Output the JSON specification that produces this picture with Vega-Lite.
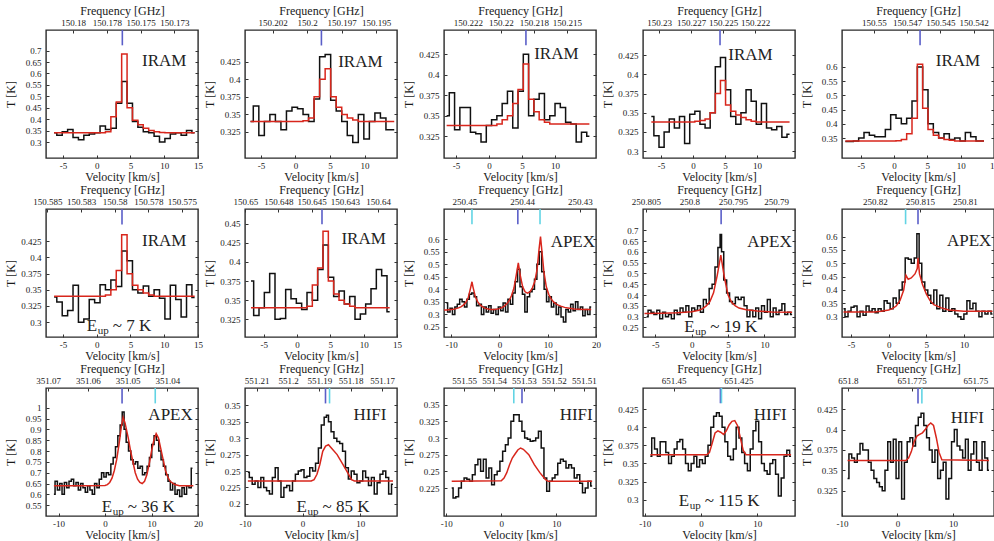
{
"$schema": "https://vega.github.io/schema/vega-lite/v6.json",
"padding": {"left": 3, "top": 3, "right": 0, "bottom": 0},
"background": "white",
"config": {
 "font": "Liberation Serif",
 "view": {"stroke": "#2a2a2a", "strokeWidth": 1.4},
 "axis": {"labelFont": "Liberation Serif", "titleFont": "Liberation Serif", "labelFontSize": 9, "titleFontSize": 12, "titleFontWeight": "normal", "labelColor": "#1a1a1a", "titleColor": "#1a1a1a", "tickColor": "#333", "tickWidth": 1, "grid": false, "domain": false, "tickSize": -3, "labelPadding": 6, "labelOverlap": false, "labelFlush": false, "tickCount": 20},
 "axisLeft": {"minExtent": 27, "maxExtent": 27, "titlePadding": 2, "labelPadding": 8},
 "axisRight": {"minExtent": 0, "maxExtent": 0},
 "axisTop": {"minExtent": 12, "maxExtent": 12, "titlePadding": 1},
 "axisBottom": {"minExtent": 13, "maxExtent": 13, "titlePadding": 0}
},
"datasets": {
 "o1": [{"v":-6.3,"T":0.34},{"v":-5.5,"T":0.33},{"v":-4.7,"T":0.345},{"v":-3.9,"T":0.355},{"v":-3.1,"T":0.32},{"v":-2.3,"T":0.31},{"v":-1.5,"T":0.33},{"v":-0.7,"T":0.335},{"v":0.1,"T":0.34},{"v":0.9,"T":0.37},{"v":1.7,"T":0.355},{"v":2.5,"T":0.36},{"v":3.3,"T":0.47},{"v":4.1,"T":0.565},{"v":4.9,"T":0.47},{"v":5.7,"T":0.39},{"v":6.5,"T":0.365},{"v":7.3,"T":0.345},{"v":8.1,"T":0.34},{"v":8.9,"T":0.325},{"v":9.7,"T":0.3},{"v":10.5,"T":0.315},{"v":11.3,"T":0.335},{"v":12.1,"T":0.34},{"v":12.9,"T":0.33},{"v":13.7,"T":0.35},{"v":14.5,"T":0.34}],
 "m1": [{"v":-6.3,"T":0.34},{"v":-5.5,"T":0.34},{"v":-4.7,"T":0.34},{"v":-3.9,"T":0.34},{"v":-3.1,"T":0.34},{"v":-2.3,"T":0.34},{"v":-1.5,"T":0.34},{"v":-0.7,"T":0.34},{"v":0.1,"T":0.34},{"v":0.9,"T":0.341},{"v":1.7,"T":0.345},{"v":2.5,"T":0.41},{"v":3.3,"T":0.475},{"v":4.1,"T":0.685},{"v":4.9,"T":0.45},{"v":5.7,"T":0.395},{"v":6.5,"T":0.375},{"v":7.3,"T":0.36},{"v":8.1,"T":0.35},{"v":8.9,"T":0.345},{"v":9.7,"T":0.342},{"v":10.5,"T":0.34},{"v":11.3,"T":0.34},{"v":12.1,"T":0.34},{"v":12.9,"T":0.34},{"v":13.7,"T":0.34},{"v":14.5,"T":0.34}],
 "k1": [{"f":150.17636,"kind":"main"}],
 "o2": [{"v":-6.5,"T":0.34},{"v":-5.7,"T":0.362},{"v":-4.9,"T":0.32},{"v":-4.1,"T":0.34},{"v":-3.3,"T":0.35},{"v":-2.5,"T":0.34},{"v":-1.7,"T":0.328},{"v":-0.9,"T":0.355},{"v":-0.1,"T":0.36},{"v":0.7,"T":0.358},{"v":1.5,"T":0.35},{"v":2.3,"T":0.34},{"v":3.1,"T":0.372},{"v":3.9,"T":0.432},{"v":4.7,"T":0.435},{"v":5.5,"T":0.37},{"v":6.3,"T":0.355},{"v":7.1,"T":0.34},{"v":7.9,"T":0.32},{"v":8.7,"T":0.31},{"v":9.5,"T":0.35},{"v":10.3,"T":0.315},{"v":11.1,"T":0.34},{"v":11.9,"T":0.352},{"v":12.7,"T":0.345},{"v":13.5,"T":0.328},{"v":14.3,"T":0.328}],
 "m2": [{"v":-6.5,"T":0.34},{"v":-5.7,"T":0.34},{"v":-4.9,"T":0.34},{"v":-4.1,"T":0.34},{"v":-3.3,"T":0.34},{"v":-2.5,"T":0.34},{"v":-1.7,"T":0.34},{"v":-0.9,"T":0.34},{"v":-0.1,"T":0.34},{"v":0.7,"T":0.34},{"v":1.5,"T":0.341},{"v":2.3,"T":0.345},{"v":3.1,"T":0.375},{"v":3.9,"T":0.4},{"v":4.7,"T":0.415},{"v":5.5,"T":0.375},{"v":6.3,"T":0.36},{"v":7.1,"T":0.35},{"v":7.9,"T":0.345},{"v":8.7,"T":0.342},{"v":9.5,"T":0.34},{"v":10.3,"T":0.34},{"v":11.1,"T":0.34},{"v":11.9,"T":0.34},{"v":12.7,"T":0.34},{"v":13.5,"T":0.34},{"v":14.3,"T":0.34}],
 "k2": [{"f":150.19896,"kind":"main"}],
 "o3": [{"v":-6.4,"T":0.35},{"v":-5.6,"T":0.378},{"v":-4.8,"T":0.333},{"v":-4.0,"T":0.36},{"v":-3.2,"T":0.36},{"v":-2.4,"T":0.33},{"v":-1.6,"T":0.328},{"v":-0.8,"T":0.318},{"v":0.0,"T":0.338},{"v":0.8,"T":0.345},{"v":1.6,"T":0.35},{"v":2.4,"T":0.365},{"v":3.2,"T":0.38},{"v":4.0,"T":0.335},{"v":4.8,"T":0.38},{"v":5.6,"T":0.425},{"v":6.4,"T":0.35},{"v":7.2,"T":0.37},{"v":8.0,"T":0.377},{"v":8.8,"T":0.345},{"v":9.6,"T":0.35},{"v":10.4,"T":0.365},{"v":11.2,"T":0.36},{"v":12.0,"T":0.342},{"v":12.8,"T":0.34},{"v":13.6,"T":0.318},{"v":14.4,"T":0.33},{"v":15.2,"T":0.325}],
 "m3": [{"v":-6.4,"T":0.338},{"v":-5.6,"T":0.338},{"v":-4.8,"T":0.338},{"v":-4.0,"T":0.338},{"v":-3.2,"T":0.338},{"v":-2.4,"T":0.338},{"v":-1.6,"T":0.338},{"v":-0.8,"T":0.338},{"v":0.0,"T":0.338},{"v":0.8,"T":0.338},{"v":1.6,"T":0.34},{"v":2.4,"T":0.345},{"v":3.2,"T":0.35},{"v":4.0,"T":0.365},{"v":4.8,"T":0.382},{"v":5.6,"T":0.413},{"v":6.4,"T":0.37},{"v":7.2,"T":0.355},{"v":8.0,"T":0.345},{"v":8.8,"T":0.342},{"v":9.6,"T":0.34},{"v":10.4,"T":0.34},{"v":11.2,"T":0.34},{"v":12.0,"T":0.34},{"v":12.8,"T":0.34},{"v":13.6,"T":0.34},{"v":14.4,"T":0.34},{"v":15.2,"T":0.34}],
 "k3": [{"f":150.2181,"kind":"main"}],
 "o4": [{"v":-6.5,"T":0.345},{"v":-5.7,"T":0.32},{"v":-4.9,"T":0.305},{"v":-4.1,"T":0.325},{"v":-3.3,"T":0.342},{"v":-2.5,"T":0.33},{"v":-1.7,"T":0.345},{"v":-0.9,"T":0.31},{"v":-0.1,"T":0.348},{"v":0.7,"T":0.352},{"v":1.5,"T":0.335},{"v":2.3,"T":0.33},{"v":3.1,"T":0.35},{"v":3.9,"T":0.41},{"v":4.7,"T":0.422},{"v":5.5,"T":0.38},{"v":6.3,"T":0.345},{"v":7.1,"T":0.335},{"v":7.9,"T":0.35},{"v":8.7,"T":0.38},{"v":9.5,"T":0.365},{"v":10.3,"T":0.335},{"v":11.1,"T":0.362},{"v":11.9,"T":0.33},{"v":12.7,"T":0.328},{"v":13.5,"T":0.332},{"v":14.3,"T":0.318},{"v":15.1,"T":0.322}],
 "m4": [{"v":-6.5,"T":0.338},{"v":-5.7,"T":0.338},{"v":-4.9,"T":0.338},{"v":-4.1,"T":0.338},{"v":-3.3,"T":0.338},{"v":-2.5,"T":0.338},{"v":-1.7,"T":0.338},{"v":-0.9,"T":0.338},{"v":-0.1,"T":0.338},{"v":0.7,"T":0.339},{"v":1.5,"T":0.34},{"v":2.3,"T":0.342},{"v":3.1,"T":0.35},{"v":3.9,"T":0.375},{"v":4.7,"T":0.392},{"v":5.5,"T":0.36},{"v":6.3,"T":0.352},{"v":7.1,"T":0.347},{"v":7.9,"T":0.344},{"v":8.7,"T":0.341},{"v":9.5,"T":0.339},{"v":10.3,"T":0.338},{"v":11.1,"T":0.338},{"v":11.9,"T":0.338},{"v":12.7,"T":0.338},{"v":13.5,"T":0.338},{"v":14.3,"T":0.338},{"v":15.1,"T":0.338}],
 "k4": [{"f":150.22524,"kind":"main"}],
 "o5": [{"v":-7.3,"T":0.338},{"v":-6.5,"T":0.338},{"v":-5.7,"T":0.34},{"v":-4.9,"T":0.35},{"v":-4.1,"T":0.37},{"v":-3.3,"T":0.36},{"v":-2.5,"T":0.355},{"v":-1.7,"T":0.355},{"v":-0.9,"T":0.38},{"v":-0.1,"T":0.432},{"v":0.7,"T":0.42},{"v":1.5,"T":0.4},{"v":2.3,"T":0.42},{"v":3.1,"T":0.48},{"v":3.9,"T":0.6},{"v":4.7,"T":0.52},{"v":5.5,"T":0.4},{"v":6.3,"T":0.37},{"v":7.1,"T":0.35},{"v":7.9,"T":0.365},{"v":8.7,"T":0.345},{"v":9.5,"T":0.35},{"v":10.3,"T":0.34},{"v":11.1,"T":0.37},{"v":11.9,"T":0.355},{"v":12.7,"T":0.34},{"v":13.5,"T":0.34}],
 "m5": [{"v":-7.3,"T":0.34},{"v":-6.5,"T":0.34},{"v":-5.7,"T":0.34},{"v":-4.9,"T":0.34},{"v":-4.1,"T":0.34},{"v":-3.3,"T":0.34},{"v":-2.5,"T":0.34},{"v":-1.7,"T":0.34},{"v":-0.9,"T":0.34},{"v":-0.1,"T":0.34},{"v":0.7,"T":0.341},{"v":1.5,"T":0.345},{"v":2.3,"T":0.365},{"v":3.1,"T":0.42},{"v":3.9,"T":0.61},{"v":4.7,"T":0.455},{"v":5.5,"T":0.38},{"v":6.3,"T":0.36},{"v":7.1,"T":0.35},{"v":7.9,"T":0.345},{"v":8.7,"T":0.342},{"v":9.5,"T":0.34},{"v":10.3,"T":0.34},{"v":11.1,"T":0.34},{"v":11.9,"T":0.34},{"v":12.7,"T":0.34},{"v":13.5,"T":0.34}],
 "k5": [{"f":150.54653,"kind":"main"}],
 "o6": [{"v":-6.3,"T":0.339},{"v":-5.5,"T":0.331},{"v":-4.7,"T":0.31},{"v":-3.9,"T":0.318},{"v":-3.1,"T":0.357},{"v":-2.3,"T":0.3},{"v":-1.5,"T":0.305},{"v":-0.7,"T":0.335},{"v":0.1,"T":0.33},{"v":0.9,"T":0.358},{"v":1.7,"T":0.35},{"v":2.5,"T":0.365},{"v":3.3,"T":0.355},{"v":4.1,"T":0.41},{"v":4.9,"T":0.395},{"v":5.7,"T":0.35},{"v":6.5,"T":0.345},{"v":7.3,"T":0.356},{"v":8.1,"T":0.34},{"v":8.9,"T":0.35},{"v":9.7,"T":0.337},{"v":10.5,"T":0.305},{"v":11.3,"T":0.357},{"v":12.1,"T":0.335},{"v":12.9,"T":0.308},{"v":13.7,"T":0.358},{"v":14.5,"T":0.338}],
 "m6": [{"v":-6.3,"T":0.34},{"v":-5.5,"T":0.34},{"v":-4.7,"T":0.34},{"v":-3.9,"T":0.34},{"v":-3.1,"T":0.34},{"v":-2.3,"T":0.34},{"v":-1.5,"T":0.34},{"v":-0.7,"T":0.34},{"v":0.1,"T":0.34},{"v":0.9,"T":0.34},{"v":1.7,"T":0.342},{"v":2.5,"T":0.35},{"v":3.3,"T":0.38},{"v":4.1,"T":0.435},{"v":4.9,"T":0.375},{"v":5.7,"T":0.357},{"v":6.5,"T":0.35},{"v":7.3,"T":0.345},{"v":8.1,"T":0.342},{"v":8.9,"T":0.34},{"v":9.7,"T":0.34},{"v":10.5,"T":0.34},{"v":11.3,"T":0.34},{"v":12.1,"T":0.34},{"v":12.9,"T":0.34},{"v":13.7,"T":0.34},{"v":14.5,"T":0.34}],
 "k6": [{"f":150.57946,"kind":"main"}],
 "o7": [{"v":-6.9,"T":0.375},{"v":-6.1,"T":0.33},{"v":-5.3,"T":0.34},{"v":-4.5,"T":0.36},{"v":-3.7,"T":0.385},{"v":-2.9,"T":0.325},{"v":-2.1,"T":0.326},{"v":-1.3,"T":0.364},{"v":-0.5,"T":0.352},{"v":0.3,"T":0.346},{"v":1.1,"T":0.338},{"v":1.9,"T":0.36},{"v":2.7,"T":0.35},{"v":3.5,"T":0.39},{"v":4.3,"T":0.422},{"v":5.1,"T":0.38},{"v":5.9,"T":0.355},{"v":6.7,"T":0.362},{"v":7.5,"T":0.345},{"v":8.3,"T":0.355},{"v":9.1,"T":0.325},{"v":9.9,"T":0.332},{"v":10.7,"T":0.345},{"v":11.5,"T":0.365},{"v":12.3,"T":0.39},{"v":13.1,"T":0.382},{"v":13.9,"T":0.335}],
 "m7": [{"v":-6.9,"T":0.34},{"v":-6.1,"T":0.34},{"v":-5.3,"T":0.34},{"v":-4.5,"T":0.34},{"v":-3.7,"T":0.34},{"v":-2.9,"T":0.34},{"v":-2.1,"T":0.34},{"v":-1.3,"T":0.34},{"v":-0.5,"T":0.34},{"v":0.3,"T":0.34},{"v":1.1,"T":0.34},{"v":1.9,"T":0.342},{"v":2.7,"T":0.37},{"v":3.5,"T":0.392},{"v":4.3,"T":0.44},{"v":5.1,"T":0.375},{"v":5.9,"T":0.358},{"v":6.7,"T":0.35},{"v":7.5,"T":0.345},{"v":8.3,"T":0.342},{"v":9.1,"T":0.34},{"v":9.9,"T":0.34},{"v":10.7,"T":0.34},{"v":11.5,"T":0.34},{"v":12.3,"T":0.34},{"v":13.1,"T":0.34},{"v":13.9,"T":0.34}],
 "k7": [{"f":150.64422,"kind":"main"}],
 "o8": [{"v":-11,"T":0.345},{"v":-10.5,"T":0.31},{"v":-10,"T":0.325},{"v":-9.5,"T":0.3},{"v":-9,"T":0.33},{"v":-8.5,"T":0.34},{"v":-8,"T":0.36},{"v":-7.5,"T":0.35},{"v":-7,"T":0.33},{"v":-6.5,"T":0.36},{"v":-6,"T":0.38},{"v":-5.5,"T":0.385},{"v":-5,"T":0.37},{"v":-4.5,"T":0.335},{"v":-4,"T":0.34},{"v":-3.5,"T":0.3},{"v":-3,"T":0.33},{"v":-2.5,"T":0.31},{"v":-2,"T":0.335},{"v":-1.5,"T":0.305},{"v":-1,"T":0.32},{"v":-0.5,"T":0.3},{"v":0,"T":0.33},{"v":0.5,"T":0.315},{"v":1,"T":0.345},{"v":1.5,"T":0.31},{"v":2,"T":0.36},{"v":2.5,"T":0.34},{"v":3,"T":0.385},{"v":3.5,"T":0.43},{"v":4,"T":0.48},{"v":4.5,"T":0.41},{"v":5,"T":0.38},{"v":5.5,"T":0.31},{"v":6,"T":0.37},{"v":6.5,"T":0.39},{"v":7,"T":0.4},{"v":7.5,"T":0.44},{"v":8,"T":0.5},{"v":8.5,"T":0.55},{"v":9,"T":0.47},{"v":9.5,"T":0.4},{"v":10,"T":0.35},{"v":10.5,"T":0.37},{"v":11,"T":0.33},{"v":11.5,"T":0.345},{"v":12,"T":0.3},{"v":12.5,"T":0.33},{"v":13,"T":0.29},{"v":13.5,"T":0.27},{"v":14,"T":0.32},{"v":14.5,"T":0.31},{"v":15,"T":0.34},{"v":15.5,"T":0.315},{"v":16,"T":0.35},{"v":16.5,"T":0.32},{"v":17,"T":0.33},{"v":17.5,"T":0.295},{"v":18,"T":0.32},{"v":18.5,"T":0.3},{"v":19,"T":0.33}],
 "m8": [{"v":-11.5,"T":0.318},{"v":-11,"T":0.318},{"v":-10.5,"T":0.319},{"v":-10,"T":0.32},{"v":-9.5,"T":0.321},{"v":-9,"T":0.323},{"v":-8.5,"T":0.326},{"v":-8,"T":0.33},{"v":-7.5,"T":0.337},{"v":-7,"T":0.347},{"v":-6.5,"T":0.365},{"v":-6,"T":0.405},{"v":-5.7,"T":0.43},{"v":-5.5,"T":0.41},{"v":-5,"T":0.37},{"v":-4.5,"T":0.35},{"v":-4,"T":0.338},{"v":-3.5,"T":0.33},{"v":-3,"T":0.325},{"v":-2,"T":0.32},{"v":-1,"T":0.32},{"v":0,"T":0.323},{"v":0.5,"T":0.327},{"v":1,"T":0.333},{"v":1.5,"T":0.342},{"v":2,"T":0.355},{"v":2.5,"T":0.375},{"v":3,"T":0.405},{"v":3.5,"T":0.46},{"v":3.9,"T":0.505},{"v":4.3,"T":0.455},{"v":4.8,"T":0.41},{"v":5.3,"T":0.39},{"v":5.8,"T":0.385},{"v":6.3,"T":0.39},{"v":6.8,"T":0.405},{"v":7.3,"T":0.43},{"v":7.8,"T":0.48},{"v":8.2,"T":0.56},{"v":8.5,"T":0.61},{"v":8.8,"T":0.55},{"v":9.2,"T":0.47},{"v":9.7,"T":0.41},{"v":10.2,"T":0.38},{"v":10.7,"T":0.362},{"v":11.2,"T":0.35},{"v":11.7,"T":0.342},{"v":12.2,"T":0.337},{"v":12.7,"T":0.333},{"v":13.5,"T":0.328},{"v":14.5,"T":0.325},{"v":15.5,"T":0.322},{"v":16.5,"T":0.321},{"v":17.5,"T":0.32},{"v":19,"T":0.32}],
 "k8": [{"f":250.44869,"kind":"blend"},{"f":250.44075,"kind":"main"},{"f":250.43691,"kind":"blend"}],
 "o9": [{"v":-6.2,"T":0.3},{"v":-5.8,"T":0.33},{"v":-5.4,"T":0.32},{"v":-5,"T":0.31},{"v":-4.6,"T":0.33},{"v":-4.2,"T":0.29},{"v":-3.8,"T":0.32},{"v":-3.4,"T":0.3},{"v":-3,"T":0.31},{"v":-2.6,"T":0.29},{"v":-2.2,"T":0.33},{"v":-1.8,"T":0.31},{"v":-1.4,"T":0.34},{"v":-1,"T":0.32},{"v":-0.6,"T":0.35},{"v":-0.2,"T":0.3},{"v":0.2,"T":0.34},{"v":0.6,"T":0.33},{"v":1,"T":0.35},{"v":1.4,"T":0.32},{"v":1.8,"T":0.38},{"v":2.2,"T":0.36},{"v":2.6,"T":0.43},{"v":3,"T":0.45},{"v":3.4,"T":0.53},{"v":3.8,"T":0.62},{"v":4,"T":0.68},{"v":4.2,"T":0.6},{"v":4.6,"T":0.47},{"v":5,"T":0.41},{"v":5.4,"T":0.37},{"v":5.8,"T":0.36},{"v":6.2,"T":0.39},{"v":6.6,"T":0.38},{"v":7,"T":0.39},{"v":7.4,"T":0.35},{"v":7.8,"T":0.3},{"v":8.2,"T":0.33},{"v":8.6,"T":0.3},{"v":9,"T":0.34},{"v":9.4,"T":0.29},{"v":9.8,"T":0.35},{"v":10.2,"T":0.32},{"v":10.6,"T":0.38},{"v":11,"T":0.3},{"v":11.4,"T":0.34},{"v":11.8,"T":0.31},{"v":12.2,"T":0.33},{"v":12.6,"T":0.36},{"v":13,"T":0.31},{"v":13.4,"T":0.32},{"v":13.8,"T":0.31}],
 "m9": [{"v":-6.5,"T":0.315},{"v":-4,"T":0.316},{"v":-2,"T":0.318},{"v":-1,"T":0.32},{"v":0,"T":0.323},{"v":1,"T":0.33},{"v":1.5,"T":0.337},{"v":2,"T":0.35},{"v":2.5,"T":0.37},{"v":3,"T":0.41},{"v":3.5,"T":0.49},{"v":4,"T":0.585},{"v":4.5,"T":0.48},{"v":5,"T":0.4},{"v":5.5,"T":0.365},{"v":6,"T":0.35},{"v":6.5,"T":0.34},{"v":7.5,"T":0.332},{"v":9,"T":0.326},{"v":11,"T":0.322},{"v":13.8,"T":0.32}],
 "k9": [{"f":250.79634,"kind":"main"}],
 "o10": [{"v":-6,"T":0.33},{"v":-5.6,"T":0.3},{"v":-5.2,"T":0.32},{"v":-4.8,"T":0.335},{"v":-4.4,"T":0.34},{"v":-4,"T":0.3},{"v":-3.6,"T":0.32},{"v":-3.2,"T":0.305},{"v":-2.8,"T":0.34},{"v":-2.4,"T":0.32},{"v":-2,"T":0.33},{"v":-1.6,"T":0.315},{"v":-1.2,"T":0.33},{"v":-0.8,"T":0.32},{"v":-0.4,"T":0.36},{"v":0,"T":0.35},{"v":0.4,"T":0.33},{"v":0.8,"T":0.37},{"v":1.2,"T":0.35},{"v":1.6,"T":0.4},{"v":2,"T":0.43},{"v":2.4,"T":0.52},{"v":2.8,"T":0.515},{"v":3.2,"T":0.5},{"v":3.6,"T":0.52},{"v":3.9,"T":0.61},{"v":4.2,"T":0.5},{"v":4.6,"T":0.43},{"v":5,"T":0.4},{"v":5.4,"T":0.38},{"v":5.8,"T":0.35},{"v":6.2,"T":0.4},{"v":6.6,"T":0.33},{"v":7,"T":0.38},{"v":7.4,"T":0.32},{"v":7.8,"T":0.37},{"v":8.2,"T":0.32},{"v":8.6,"T":0.33},{"v":9,"T":0.31},{"v":9.4,"T":0.3},{"v":9.8,"T":0.29},{"v":10.2,"T":0.31},{"v":10.6,"T":0.36},{"v":11,"T":0.33},{"v":11.4,"T":0.35},{"v":11.8,"T":0.32},{"v":12.2,"T":0.3},{"v":12.6,"T":0.32},{"v":13,"T":0.31},{"v":13.4,"T":0.32},{"v":13.8,"T":0.31}],
 "m10": [{"v":-6,"T":0.318},{"v":-2,"T":0.318},{"v":-1,"T":0.32},{"v":0,"T":0.325},{"v":0.5,"T":0.33},{"v":1,"T":0.34},{"v":1.5,"T":0.36},{"v":2,"T":0.4},{"v":2.3,"T":0.455},{"v":2.6,"T":0.44},{"v":3,"T":0.445},{"v":3.5,"T":0.46},{"v":3.8,"T":0.48},{"v":3.9,"T":0.52},{"v":4.1,"T":0.46},{"v":4.5,"T":0.42},{"v":5,"T":0.385},{"v":5.5,"T":0.36},{"v":6,"T":0.345},{"v":7,"T":0.333},{"v":8,"T":0.325},{"v":10,"T":0.32},{"v":13.8,"T":0.32}],
 "k10": [{"f":250.81658,"kind":"blend"},{"f":250.8152,"kind":"main"}],
 "o11": [{"v":-11,"T":0.6},{"v":-10.5,"T":0.66},{"v":-10,"T":0.62},{"v":-9.5,"T":0.65},{"v":-9,"T":0.6},{"v":-8.5,"T":0.655},{"v":-8,"T":0.63},{"v":-7.5,"T":0.66},{"v":-7,"T":0.67},{"v":-6.5,"T":0.64},{"v":-6,"T":0.655},{"v":-5.5,"T":0.62},{"v":-5,"T":0.65},{"v":-4.5,"T":0.63},{"v":-4,"T":0.61},{"v":-3.5,"T":0.64},{"v":-3,"T":0.62},{"v":-2.5,"T":0.6},{"v":-2,"T":0.65},{"v":-1.5,"T":0.63},{"v":-1,"T":0.67},{"v":-0.5,"T":0.7},{"v":0,"T":0.68},{"v":0.5,"T":0.7},{"v":1,"T":0.69},{"v":1.5,"T":0.74},{"v":2,"T":0.77},{"v":2.5,"T":0.82},{"v":3,"T":0.87},{"v":3.5,"T":0.92},{"v":3.9,"T":0.98},{"v":4.3,"T":0.9},{"v":4.8,"T":0.84},{"v":5.3,"T":0.8},{"v":5.8,"T":0.76},{"v":6.3,"T":0.74},{"v":6.8,"T":0.75},{"v":7.3,"T":0.72},{"v":7.8,"T":0.73},{"v":8.3,"T":0.69},{"v":8.8,"T":0.7},{"v":9.3,"T":0.73},{"v":9.8,"T":0.77},{"v":10.3,"T":0.83},{"v":10.8,"T":0.87},{"v":11.3,"T":0.85},{"v":11.8,"T":0.8},{"v":12.3,"T":0.76},{"v":12.8,"T":0.73},{"v":13.3,"T":0.69},{"v":13.8,"T":0.66},{"v":14.3,"T":0.62},{"v":14.8,"T":0.65},{"v":15.3,"T":0.6},{"v":15.8,"T":0.62},{"v":16.3,"T":0.59},{"v":16.8,"T":0.63},{"v":17.3,"T":0.6},{"v":17.8,"T":0.64},{"v":18.3,"T":0.63},{"v":18.8,"T":0.72}],
 "m11": [{"v":-11,"T":0.64},{"v":-5,"T":0.64},{"v":0,"T":0.641},{"v":0.5,"T":0.645},{"v":1,"T":0.655},{"v":1.5,"T":0.675},{"v":2,"T":0.71},{"v":2.5,"T":0.76},{"v":3,"T":0.83},{"v":3.5,"T":0.91},{"v":3.9,"T":0.955},{"v":4.3,"T":0.93},{"v":5,"T":0.86},{"v":5.5,"T":0.8},{"v":6,"T":0.75},{"v":6.5,"T":0.7},{"v":7,"T":0.67},{"v":7.5,"T":0.655},{"v":8,"T":0.65},{"v":8.5,"T":0.66},{"v":9,"T":0.69},{"v":9.5,"T":0.74},{"v":10,"T":0.8},{"v":10.5,"T":0.85},{"v":11,"T":0.88},{"v":11.5,"T":0.86},{"v":12,"T":0.81},{"v":12.5,"T":0.76},{"v":13,"T":0.71},{"v":13.5,"T":0.68},{"v":14,"T":0.66},{"v":15,"T":0.645},{"v":16,"T":0.64},{"v":19,"T":0.64}],
 "k11": [{"f":351.0514,"kind":"main"},{"f":351.04304,"kind":"blend"}],
 "o12": [{"v":-9.5,"T":0.248},{"v":-9,"T":0.24},{"v":-8.5,"T":0.23},{"v":-8,"T":0.235},{"v":-7.5,"T":0.225},{"v":-7,"T":0.24},{"v":-6.5,"T":0.225},{"v":-6,"T":0.22},{"v":-5.5,"T":0.215},{"v":-5,"T":0.24},{"v":-4.5,"T":0.255},{"v":-4,"T":0.235},{"v":-3.5,"T":0.21},{"v":-3,"T":0.225},{"v":-2.5,"T":0.228},{"v":-2,"T":0.22},{"v":-1.5,"T":0.235},{"v":-1,"T":0.245},{"v":-0.5,"T":0.25},{"v":0,"T":0.252},{"v":0.5,"T":0.24},{"v":1,"T":0.242},{"v":1.5,"T":0.255},{"v":2,"T":0.25},{"v":2.5,"T":0.262},{"v":3,"T":0.285},{"v":3.5,"T":0.32},{"v":4,"T":0.332},{"v":4.3,"T":0.335},{"v":4.7,"T":0.325},{"v":5.2,"T":0.31},{"v":5.7,"T":0.3},{"v":6.2,"T":0.295},{"v":6.7,"T":0.292},{"v":7.2,"T":0.28},{"v":7.7,"T":0.255},{"v":8.2,"T":0.238},{"v":8.7,"T":0.25},{"v":9.2,"T":0.245},{"v":9.7,"T":0.232},{"v":10.2,"T":0.235},{"v":10.7,"T":0.25},{"v":11.2,"T":0.24},{"v":11.7,"T":0.228},{"v":12.2,"T":0.24},{"v":12.7,"T":0.215},{"v":13.2,"T":0.232},{"v":13.7,"T":0.245},{"v":14.2,"T":0.25},{"v":14.7,"T":0.24},{"v":15.2,"T":0.215},{"v":15.7,"T":0.23}],
 "m12": [{"v":-9.5,"T":0.235},{"v":1.5,"T":0.235},{"v":2,"T":0.237},{"v":2.5,"T":0.245},{"v":3,"T":0.26},{"v":3.5,"T":0.28},{"v":4,"T":0.288},{"v":4.5,"T":0.29},{"v":5,"T":0.285},{"v":6,"T":0.275},{"v":7,"T":0.26},{"v":8,"T":0.245},{"v":8.5,"T":0.237},{"v":9,"T":0.235},{"v":15.7,"T":0.235}],
 "k12": [{"f":551.18805,"kind":"main"},{"f":551.18676,"kind":"blend"}],
 "o13": [{"v":-9,"T":0.225},{"v":-8.5,"T":0.21},{"v":-8,"T":0.212},{"v":-7.5,"T":0.225},{"v":-7,"T":0.235},{"v":-6.5,"T":0.24},{"v":-6,"T":0.238},{"v":-5.5,"T":0.235},{"v":-5,"T":0.245},{"v":-4.5,"T":0.26},{"v":-4,"T":0.268},{"v":-3.5,"T":0.25},{"v":-3,"T":0.268},{"v":-2.5,"T":0.24},{"v":-2,"T":0.255},{"v":-1.5,"T":0.23},{"v":-1,"T":0.245},{"v":-0.5,"T":0.25},{"v":0,"T":0.265},{"v":0.5,"T":0.28},{"v":1,"T":0.29},{"v":1.5,"T":0.3},{"v":2,"T":0.325},{"v":2.5,"T":0.335},{"v":3,"T":0.335},{"v":3.5,"T":0.325},{"v":4,"T":0.31},{"v":4.5,"T":0.3},{"v":5,"T":0.298},{"v":5.5,"T":0.295},{"v":6,"T":0.296},{"v":6.5,"T":0.3},{"v":7,"T":0.31},{"v":7.5,"T":0.285},{"v":8,"T":0.24},{"v":8.5,"T":0.22},{"v":9,"T":0.235},{"v":9.5,"T":0.24},{"v":10,"T":0.245},{"v":10.5,"T":0.262},{"v":11,"T":0.268},{"v":11.5,"T":0.265},{"v":12,"T":0.255},{"v":12.5,"T":0.26},{"v":13,"T":0.255},{"v":13.5,"T":0.24},{"v":14,"T":0.245},{"v":14.5,"T":0.232},{"v":15,"T":0.218},{"v":15.5,"T":0.225},{"v":16,"T":0.235},{"v":16.5,"T":0.228}],
 "m13": [{"v":-9,"T":0.235},{"v":0,"T":0.236},{"v":0.5,"T":0.24},{"v":1,"T":0.248},{"v":1.5,"T":0.26},{"v":2,"T":0.27},{"v":2.5,"T":0.276},{"v":3,"T":0.282},{"v":3.5,"T":0.285},{"v":4,"T":0.283},{"v":5,"T":0.275},{"v":6,"T":0.26},{"v":7,"T":0.248},{"v":8,"T":0.238},{"v":8.5,"T":0.235},{"v":16.5,"T":0.235}],
 "k13": [{"f":551.5334,"kind":"blend"},{"f":551.53066,"kind":"main"}],
 "o14": [{"v":-9,"T":0.36},{"v":-8.5,"T":0.385},{"v":-8,"T":0.37},{"v":-7.5,"T":0.36},{"v":-7,"T":0.38},{"v":-6.5,"T":0.38},{"v":-6,"T":0.365},{"v":-5.5,"T":0.35},{"v":-5,"T":0.36},{"v":-4.5,"T":0.37},{"v":-4,"T":0.38},{"v":-3.5,"T":0.383},{"v":-3,"T":0.37},{"v":-2.5,"T":0.35},{"v":-2,"T":0.34},{"v":-1.5,"T":0.35},{"v":-1,"T":0.36},{"v":-0.5,"T":0.345},{"v":0,"T":0.355},{"v":0.5,"T":0.35},{"v":1,"T":0.36},{"v":1.5,"T":0.375},{"v":2,"T":0.4},{"v":2.5,"T":0.415},{"v":3,"T":0.42},{"v":3.5,"T":0.415},{"v":4,"T":0.4},{"v":4.5,"T":0.38},{"v":5,"T":0.36},{"v":5.5,"T":0.355},{"v":6,"T":0.37},{"v":6.5,"T":0.4},{"v":7,"T":0.385},{"v":7.5,"T":0.365},{"v":8,"T":0.35},{"v":8.5,"T":0.34},{"v":9,"T":0.37},{"v":9.5,"T":0.395},{"v":10,"T":0.408},{"v":10.5,"T":0.38},{"v":11,"T":0.35},{"v":11.5,"T":0.34},{"v":12,"T":0.335},{"v":12.5,"T":0.35},{"v":13,"T":0.355},{"v":13.5,"T":0.335},{"v":14,"T":0.305},{"v":14.5,"T":0.33},{"v":15,"T":0.36},{"v":15.5,"T":0.368},{"v":16,"T":0.36}],
 "m14": [{"v":-9,"T":0.362},{"v":1,"T":0.362},{"v":1.5,"T":0.365},{"v":2,"T":0.378},{"v":2.5,"T":0.392},{"v":3,"T":0.395},{"v":3.5,"T":0.393},{"v":4,"T":0.39},{"v":4.5,"T":0.395},{"v":5,"T":0.403},{"v":5.5,"T":0.408},{"v":6,"T":0.409},{"v":6.5,"T":0.402},{"v":7,"T":0.385},{"v":7.5,"T":0.368},{"v":8,"T":0.362},{"v":16,"T":0.362}],
 "k14": [{"f":651.43195,"kind":"main"},{"f":651.43155,"kind":"blend"}],
 "o15": [{"v":-9,"T":0.34},{"v":-8.5,"T":0.37},{"v":-8,"T":0.365},{"v":-7.5,"T":0.36},{"v":-7,"T":0.37},{"v":-6.5,"T":0.383},{"v":-6,"T":0.375},{"v":-5.5,"T":0.375},{"v":-5,"T":0.36},{"v":-4.5,"T":0.35},{"v":-4,"T":0.34},{"v":-3.5,"T":0.335},{"v":-3,"T":0.33},{"v":-2.5,"T":0.325},{"v":-2,"T":0.35},{"v":-1.5,"T":0.385},{"v":-1,"T":0.36},{"v":-0.5,"T":0.388},{"v":0,"T":0.34},{"v":0.5,"T":0.385},{"v":1,"T":0.315},{"v":1.5,"T":0.36},{"v":2,"T":0.385},{"v":2.5,"T":0.39},{"v":3,"T":0.38},{"v":3.5,"T":0.405},{"v":4,"T":0.415},{"v":4.5,"T":0.42},{"v":5,"T":0.405},{"v":5.5,"T":0.39},{"v":6,"T":0.375},{"v":6.5,"T":0.36},{"v":7,"T":0.375},{"v":7.5,"T":0.34},{"v":8,"T":0.35},{"v":8.5,"T":0.36},{"v":9,"T":0.315},{"v":9.5,"T":0.34},{"v":10,"T":0.385},{"v":10.5,"T":0.4},{"v":11,"T":0.38},{"v":11.5,"T":0.375},{"v":12,"T":0.365},{"v":12.5,"T":0.388},{"v":13,"T":0.35},{"v":13.5,"T":0.37},{"v":14,"T":0.385},{"v":14.5,"T":0.36},{"v":15,"T":0.35},{"v":15.5,"T":0.385},{"v":16,"T":0.365},{"v":16.5,"T":0.35}],
 "m15": [{"v":-9,"T":0.362},{"v":1.5,"T":0.362},{"v":2,"T":0.365},{"v":2.5,"T":0.373},{"v":3,"T":0.385},{"v":3.5,"T":0.392},{"v":4,"T":0.394},{"v":4.5,"T":0.396},{"v":5,"T":0.4},{"v":5.5,"T":0.405},{"v":6,"T":0.408},{"v":6.5,"T":0.405},{"v":7,"T":0.39},{"v":7.5,"T":0.372},{"v":8,"T":0.363},{"v":16.5,"T":0.362}],
 "k15": [{"f":651.7725,"kind":"main"},{"f":651.77098,"kind":"blend"}]
},
"columns": 5,
"spacing": {"row": 51, "column": 47},
"bounds": "flush",
"concat": [
{"width":152,"height":128,"resolve":{"scale":{"x":"independent"},"axis":{"x":"independent","y":"independent"}},"layer":[
 {"layer":[
  {"data":{"name":"o1"},"mark":{"type":"line","interpolate":"step","color":"#111","strokeWidth":1.5},"encoding":{"x":{"field":"v","type":"quantitative","scale":{"domain":[-7.5,15],"nice":false,"zero":false},"axis":{"title":"Velocity [km/s]","values":[-5,0,5,10,15],"tickCount":20,"labelExpr":"toString(datum.value)"}},"y":{"field":"T","type":"quantitative","title":"T [K]","scale":{"domain":[0.23,0.79],"nice":false,"zero":false},"axis":{"values":[0.3,0.35,0.4,0.45,0.5,0.55,0.6,0.65,0.7],"tickCount":20,"labelExpr":"toString(datum.value)"}}}},
  {"data":{"name":"m1"},"mark":{"type":"line","interpolate":"step","color":"#d8261c","strokeWidth":1.5},"encoding":{"x":{"field":"v","type":"quantitative"},"y":{"field":"T","type":"quantitative","title":"T [K]"}}},
  {"data":{"values":[{"t":"IRAM"}]},"mark":{"type":"text","fontSize":17,"font":"Liberation Serif","color":"#222"},"encoding":{"x":{"datum":10},"y":{"datum":0.655},"text":{"field":"t","type":"nominal"}}}
 ]},
 {"data":{"name":"k1"},"mark":{"type":"rule","strokeWidth":1.6},"encoding":{"x":{"field":"f","type":"quantitative","scale":{"domain":[150.18202,150.17075],"nice":false,"zero":false},"axis":{"orient":"top","title":"Frequency [GHz]","values":[150.18,150.1775,150.175,150.1725],"tickCount":20,"labelExpr":"datum.value > 150.179 ? '150.18' : datum.value > 150.176 ? '150.178' : datum.value > 150.174 ? '150.175' : '150.173'"}},"y":{"datum":0.79,"axis":{"orient":"right","labels":false,"title":null,"values":[0.3,0.35,0.4,0.45,0.5,0.55,0.6,0.65,0.7],"tickCount":20}},"y2":{"datum":0.723},"color":{"field":"kind","type":"nominal","scale":{"domain":["main","blend"],"range":["#5a5ec8","#62d4e4"]},"legend":null}}}
]},
{"width":152,"height":128,"resolve":{"scale":{"x":"independent"},"axis":{"x":"independent","y":"independent"}},"layer":[
 {"layer":[
  {"data":{"name":"o2"},"mark":{"type":"line","interpolate":"step","color":"#111","strokeWidth":1.5},"encoding":{"x":{"field":"v","type":"quantitative","scale":{"domain":[-7.3,14.7],"nice":false,"zero":false},"axis":{"title":"Velocity [km/s]","values":[-5,0,5,10],"tickCount":20,"labelExpr":"toString(datum.value)"}},"y":{"field":"T","type":"quantitative","title":"T [K]","scale":{"domain":[0.288,0.47],"nice":false,"zero":false},"axis":{"values":[0.325,0.35,0.375,0.4,0.425],"tickCount":20,"labelExpr":"toString(datum.value)"}}}},
  {"data":{"name":"m2"},"mark":{"type":"line","interpolate":"step","color":"#d8261c","strokeWidth":1.5},"encoding":{"x":{"field":"v","type":"quantitative"},"y":{"field":"T","type":"quantitative","title":"T [K]"}}},
  {"data":{"values":[{"t":"IRAM"}]},"mark":{"type":"text","fontSize":17,"font":"Liberation Serif","color":"#222"},"encoding":{"x":{"datum":9.4},"y":{"datum":0.425},"text":{"field":"t","type":"nominal"}}}
 ]},
 {"data":{"name":"k2"},"mark":{"type":"rule","strokeWidth":1.6},"encoding":{"x":{"field":"f","type":"quantitative","scale":{"domain":[150.2045,150.19348],"nice":false,"zero":false},"axis":{"orient":"top","title":"Frequency [GHz]","values":[150.2025,150.2,150.1975,150.195],"tickCount":20,"labelExpr":"datum.value > 150.201 ? '150.202' : datum.value > 150.199 ? '150.2' : datum.value > 150.196 ? '150.197' : '150.195'"}},"y":{"datum":0.47,"axis":{"orient":"right","labels":false,"title":null,"values":[0.325,0.35,0.375,0.4,0.425],"tickCount":20}},"y2":{"datum":0.448},"color":{"field":"kind","type":"nominal","scale":{"domain":["main","blend"],"range":["#5a5ec8","#62d4e4"]},"legend":null}}}
]},
{"width":152,"height":128,"resolve":{"scale":{"x":"independent"},"axis":{"x":"independent","y":"independent"}},"layer":[
 {"layer":[
  {"data":{"name":"o3"},"mark":{"type":"line","interpolate":"step","color":"#111","strokeWidth":1.5},"encoding":{"x":{"field":"v","type":"quantitative","scale":{"domain":[-6.8,16.2],"nice":false,"zero":false},"axis":{"title":"Velocity [km/s]","values":[-5,0,5,10],"tickCount":20,"labelExpr":"toString(datum.value)"}},"y":{"field":"T","type":"quantitative","title":"T [K]","scale":{"domain":[0.2985,0.4545],"nice":false,"zero":false},"axis":{"values":[0.325,0.35,0.375,0.4,0.425],"tickCount":20,"labelExpr":"toString(datum.value)"}}}},
  {"data":{"name":"m3"},"mark":{"type":"line","interpolate":"step","color":"#d8261c","strokeWidth":1.5},"encoding":{"x":{"field":"v","type":"quantitative"},"y":{"field":"T","type":"quantitative","title":"T [K]"}}},
  {"data":{"values":[{"t":"IRAM"}]},"mark":{"type":"text","fontSize":17,"font":"Liberation Serif","color":"#222"},"encoding":{"x":{"datum":10.2},"y":{"datum":0.425},"text":{"field":"t","type":"nominal"}}}
 ]},
 {"data":{"name":"k3"},"mark":{"type":"rule","strokeWidth":1.6},"encoding":{"x":{"field":"f","type":"quantitative","scale":{"domain":[150.22431,150.21279],"nice":false,"zero":false},"axis":{"orient":"top","title":"Frequency [GHz]","values":[150.2225,150.22,150.2175,150.215],"tickCount":20,"labelExpr":"datum.value > 150.221 ? '150.222' : datum.value > 150.219 ? '150.22' : datum.value > 150.216 ? '150.218' : '150.215'"}},"y":{"datum":0.4545,"axis":{"orient":"right","labels":false,"title":null,"values":[0.325,0.35,0.375,0.4,0.425],"tickCount":20}},"y2":{"datum":0.436},"color":{"field":"kind","type":"nominal","scale":{"domain":["main","blend"],"range":["#5a5ec8","#62d4e4"]},"legend":null}}}
]},
{"width":152,"height":128,"resolve":{"scale":{"x":"independent"},"axis":{"x":"independent","y":"independent"}},"layer":[
 {"layer":[
  {"data":{"name":"o4"},"mark":{"type":"line","interpolate":"step","color":"#111","strokeWidth":1.5},"encoding":{"x":{"field":"v","type":"quantitative","scale":{"domain":[-7.8,15.95],"nice":false,"zero":false},"axis":{"title":"Velocity [km/s]","values":[-5,0,5,10],"tickCount":20,"labelExpr":"toString(datum.value)"}},"y":{"field":"T","type":"quantitative","title":"T [K]","scale":{"domain":[0.291,0.458],"nice":false,"zero":false},"axis":{"values":[0.3,0.325,0.35,0.375,0.4,0.425],"tickCount":20,"labelExpr":"toString(datum.value)"}}}},
  {"data":{"name":"m4"},"mark":{"type":"line","interpolate":"step","color":"#d8261c","strokeWidth":1.5},"encoding":{"x":{"field":"v","type":"quantitative"},"y":{"field":"T","type":"quantitative","title":"T [K]"}}},
  {"data":{"values":[{"t":"IRAM"}]},"mark":{"type":"text","fontSize":17,"font":"Liberation Serif","color":"#222"},"encoding":{"x":{"datum":9.0},"y":{"datum":0.425},"text":{"field":"t","type":"nominal"}}}
 ]},
 {"data":{"name":"k4"},"mark":{"type":"rule","strokeWidth":1.6},"encoding":{"x":{"field":"f","type":"quantitative","scale":{"domain":[150.23127,150.21937],"nice":false,"zero":false},"axis":{"orient":"top","title":"Frequency [GHz]","values":[150.23,150.2275,150.225,150.2225],"tickCount":20,"labelExpr":"datum.value > 150.229 ? '150.23' : datum.value > 150.226 ? '150.227' : datum.value > 150.224 ? '150.225' : '150.222'"}},"y":{"datum":0.458,"axis":{"orient":"right","labels":false,"title":null,"values":[0.3,0.325,0.35,0.375,0.4,0.425],"tickCount":20}},"y2":{"datum":0.438},"color":{"field":"kind","type":"nominal","scale":{"domain":["main","blend"],"range":["#5a5ec8","#62d4e4"]},"legend":null}}}
]},
{"width":152,"height":128,"resolve":{"scale":{"x":"independent"},"axis":{"x":"independent","y":"independent"}},"layer":[
 {"layer":[
  {"data":{"name":"o5"},"mark":{"type":"line","interpolate":"step","color":"#111","strokeWidth":1.5},"encoding":{"x":{"field":"v","type":"quantitative","scale":{"domain":[-7.8,15],"nice":false,"zero":false},"axis":{"title":"Velocity [km/s]","values":[-5,0,5,10,15],"tickCount":20,"labelExpr":"toString(datum.value)"}},"y":{"field":"T","type":"quantitative","title":"T [K]","scale":{"domain":[0.28,0.73],"nice":false,"zero":false},"axis":{"values":[0.35,0.4,0.45,0.5,0.55,0.6],"tickCount":20,"labelExpr":"toString(datum.value)"}}}},
  {"data":{"name":"m5"},"mark":{"type":"line","interpolate":"step","color":"#d8261c","strokeWidth":1.5},"encoding":{"x":{"field":"v","type":"quantitative"},"y":{"field":"T","type":"quantitative","title":"T [K]"}}},
  {"data":{"values":[{"t":"IRAM"}]},"mark":{"type":"text","fontSize":17,"font":"Liberation Serif","color":"#222"},"encoding":{"x":{"datum":9.6},"y":{"datum":0.62},"text":{"field":"t","type":"nominal"}}}
 ]},
 {"data":{"name":"k5"},"mark":{"type":"rule","strokeWidth":1.6},"encoding":{"x":{"field":"f","type":"quantitative","scale":{"domain":[150.55241,150.54096],"nice":false,"zero":false},"axis":{"orient":"top","title":"Frequency [GHz]","values":[150.55,150.5475,150.545,150.5425],"tickCount":20,"labelExpr":"datum.value > 150.549 ? '150.55' : datum.value > 150.546 ? '150.547' : datum.value > 150.544 ? '150.545' : '150.542'"}},"y":{"datum":0.73,"axis":{"orient":"right","labels":false,"title":null,"values":[0.35,0.4,0.45,0.5,0.55,0.6],"tickCount":20}},"y2":{"datum":0.676},"color":{"field":"kind","type":"nominal","scale":{"domain":["main","blend"],"range":["#5a5ec8","#62d4e4"]},"legend":null}}}
]},
{"width":152,"height":128,"resolve":{"scale":{"x":"independent"},"axis":{"x":"independent","y":"independent"}},"layer":[
 {"layer":[
  {"data":{"name":"o6"},"mark":{"type":"line","interpolate":"step","color":"#111","strokeWidth":1.5},"encoding":{"x":{"field":"v","type":"quantitative","scale":{"domain":[-7.5,15],"nice":false,"zero":false},"axis":{"title":"Velocity [km/s]","values":[-5,0,5,10,15],"tickCount":20,"labelExpr":"toString(datum.value)"}},"y":{"field":"T","type":"quantitative","title":"T [K]","scale":{"domain":[0.277,0.475],"nice":false,"zero":false},"axis":{"values":[0.3,0.325,0.35,0.375,0.4,0.425],"tickCount":20,"labelExpr":"toString(datum.value)"}}}},
  {"data":{"name":"m6"},"mark":{"type":"line","interpolate":"step","color":"#d8261c","strokeWidth":1.5},"encoding":{"x":{"field":"v","type":"quantitative"},"y":{"field":"T","type":"quantitative","title":"T [K]"}}},
  {"data":{"values":[{"t":"IRAM"}]},"mark":{"type":"text","fontSize":17,"font":"Liberation Serif","color":"#222"},"encoding":{"x":{"datum":10},"y":{"datum":0.425},"text":{"field":"t","type":"nominal"}}},
  {"data":{"values":[{"t":"E"}]},"mark":{"type":"text","align":"left","fontSize":17,"font":"Liberation Serif","color":"#222"},"encoding":{"x":{"datum":-1.46},"y":{"datum":0.294},"text":{"field":"t","type":"nominal"}}},
  {"data":{"values":[{"t":"up"}]},"mark":{"type":"text","align":"left","fontSize":11,"dx":11,"dy":5,"font":"Liberation Serif","color":"#222"},"encoding":{"x":{"datum":-1.46},"y":{"datum":0.294},"text":{"field":"t","type":"nominal"}}},
  {"data":{"values":[{"t":"~ 7 K"}]},"mark":{"type":"text","align":"left","fontSize":17,"dx":26,"font":"Liberation Serif","color":"#222"},"encoding":{"x":{"datum":-1.46},"y":{"datum":0.294},"text":{"field":"t","type":"nominal"}}}
 ]},
 {"data":{"name":"k6"},"mark":{"type":"rule","strokeWidth":1.6},"encoding":{"x":{"field":"f","type":"quantitative","scale":{"domain":[150.58511,150.57381],"nice":false,"zero":false},"axis":{"orient":"top","title":"Frequency [GHz]","values":[150.585,150.5825,150.58,150.5775,150.575],"tickCount":20,"labelExpr":"datum.value > 150.584 ? '150.585' : datum.value > 150.581 ? '150.583' : datum.value > 150.579 ? '150.58' : datum.value > 150.576 ? '150.578' : '150.575'"}},"y":{"datum":0.475,"axis":{"orient":"right","labels":false,"title":null,"values":[0.3,0.325,0.35,0.375,0.4,0.425],"tickCount":20}},"y2":{"datum":0.451},"color":{"field":"kind","type":"nominal","scale":{"domain":["main","blend"],"range":["#5a5ec8","#62d4e4"]},"legend":null}}}
]},
{"width":152,"height":128,"resolve":{"scale":{"x":"independent"},"axis":{"x":"independent","y":"independent"}},"layer":[
 {"layer":[
  {"data":{"name":"o7"},"mark":{"type":"line","interpolate":"step","color":"#111","strokeWidth":1.5},"encoding":{"x":{"field":"v","type":"quantitative","scale":{"domain":[-7.8,15],"nice":false,"zero":false},"axis":{"title":"Velocity [km/s]","values":[-5,0,5,10,15],"tickCount":20,"labelExpr":"toString(datum.value)"}},"y":{"field":"T","type":"quantitative","title":"T [K]","scale":{"domain":[0.302,0.469],"nice":false,"zero":false},"axis":{"values":[0.325,0.35,0.375,0.4,0.425,0.45],"tickCount":20,"labelExpr":"toString(datum.value)"}}}},
  {"data":{"name":"m7"},"mark":{"type":"line","interpolate":"step","color":"#d8261c","strokeWidth":1.5},"encoding":{"x":{"field":"v","type":"quantitative"},"y":{"field":"T","type":"quantitative","title":"T [K]"}}},
  {"data":{"values":[{"t":"IRAM"}]},"mark":{"type":"text","fontSize":17,"font":"Liberation Serif","color":"#222"},"encoding":{"x":{"datum":10},"y":{"datum":0.43},"text":{"field":"t","type":"nominal"}}}
 ]},
 {"data":{"name":"k7"},"mark":{"type":"rule","strokeWidth":1.6},"encoding":{"x":{"field":"f","type":"quantitative","scale":{"domain":[150.65002,150.63857],"nice":false,"zero":false},"axis":{"orient":"top","title":"Frequency [GHz]","values":[150.65,150.6475,150.645,150.6425,150.64],"tickCount":20,"labelExpr":"datum.value > 150.649 ? '150.65' : datum.value > 150.646 ? '150.648' : datum.value > 150.644 ? '150.645' : datum.value > 150.641 ? '150.643' : '150.64'"}},"y":{"datum":0.469,"axis":{"orient":"right","labels":false,"title":null,"values":[0.325,0.35,0.375,0.4,0.425,0.45],"tickCount":20}},"y2":{"datum":0.449},"color":{"field":"kind","type":"nominal","scale":{"domain":["main","blend"],"range":["#5a5ec8","#62d4e4"]},"legend":null}}}
]},
{"width":152,"height":128,"resolve":{"scale":{"x":"independent"},"axis":{"x":"independent","y":"independent"}},"layer":[
 {"layer":[
  {"data":{"name":"o8"},"mark":{"type":"line","interpolate":"step","color":"#111","strokeWidth":1.5},"encoding":{"x":{"field":"v","type":"quantitative","scale":{"domain":[-11.5,20],"nice":false,"zero":false},"axis":{"title":"Velocity [km/s]","values":[-10,0,10,20],"tickCount":20,"labelExpr":"toString(datum.value)"}},"y":{"field":"T","type":"quantitative","title":"T [K]","scale":{"domain":[0.21,0.72],"nice":false,"zero":false},"axis":{"values":[0.25,0.3,0.35,0.4,0.45,0.5,0.55,0.6],"tickCount":20,"labelExpr":"toString(datum.value)"}}}},
  {"data":{"name":"m8"},"mark":{"type":"line","color":"#d8261c","strokeWidth":1.5},"encoding":{"x":{"field":"v","type":"quantitative"},"y":{"field":"T","type":"quantitative","title":"T [K]"}}},
  {"data":{"values":[{"t":"APEX"}]},"mark":{"type":"text","fontSize":17,"font":"Liberation Serif","color":"#222"},"encoding":{"x":{"datum":15.2},"y":{"datum":0.587},"text":{"field":"t","type":"nominal"}}}
 ]},
 {"data":{"name":"k8"},"mark":{"type":"rule","strokeWidth":1.6},"encoding":{"x":{"field":"f","type":"quantitative","scale":{"domain":[250.45353,250.42722],"nice":false,"zero":false},"axis":{"orient":"top","title":"Frequency [GHz]","values":[250.45,250.44,250.43],"tickCount":20,"labelExpr":"toString(datum.value)"}},"y":{"datum":0.72,"axis":{"orient":"right","labels":false,"title":null,"values":[0.25,0.3,0.35,0.4,0.45,0.5,0.55,0.6],"tickCount":20}},"y2":{"datum":0.659},"color":{"field":"kind","type":"nominal","scale":{"domain":["main","blend"],"range":["#5a5ec8","#62d4e4"]},"legend":null}}}
]},
{"width":152,"height":128,"resolve":{"scale":{"x":"independent"},"axis":{"x":"independent","y":"independent"}},"layer":[
 {"layer":[
  {"data":{"name":"o9"},"mark":{"type":"line","interpolate":"step","color":"#111","strokeWidth":1.5},"encoding":{"x":{"field":"v","type":"quantitative","scale":{"domain":[-6.7,14.2],"nice":false,"zero":false},"axis":{"title":"Velocity [km/s]","values":[-5,0,5,10],"tickCount":20,"labelExpr":"toString(datum.value)"}},"y":{"field":"T","type":"quantitative","title":"T [K]","scale":{"domain":[0.206,0.798],"nice":false,"zero":false},"axis":{"values":[0.25,0.3,0.35,0.4,0.45,0.5,0.55,0.6,0.65,0.7],"tickCount":20,"labelExpr":"toString(datum.value)"}}}},
  {"data":{"name":"m9"},"mark":{"type":"line","color":"#d8261c","strokeWidth":1.5},"encoding":{"x":{"field":"v","type":"quantitative"},"y":{"field":"T","type":"quantitative","title":"T [K]"}}},
  {"data":{"values":[{"t":"APEX"}]},"mark":{"type":"text","fontSize":17,"font":"Liberation Serif","color":"#222"},"encoding":{"x":{"datum":10.7},"y":{"datum":0.647},"text":{"field":"t","type":"nominal"}}},
  {"data":{"values":[{"t":"E"}]},"mark":{"type":"text","align":"left","fontSize":17,"font":"Liberation Serif","color":"#222"},"encoding":{"x":{"datum":-1.03},"y":{"datum":0.253},"text":{"field":"t","type":"nominal"}}},
  {"data":{"values":[{"t":"up"}]},"mark":{"type":"text","align":"left","fontSize":11,"dx":11,"dy":5,"font":"Liberation Serif","color":"#222"},"encoding":{"x":{"datum":-1.03},"y":{"datum":0.253},"text":{"field":"t","type":"nominal"}}},
  {"data":{"values":[{"t":"~ 19 K"}]},"mark":{"type":"text","align":"left","fontSize":17,"dx":26,"font":"Liberation Serif","color":"#222"},"encoding":{"x":{"datum":-1.03},"y":{"datum":0.253},"text":{"field":"t","type":"nominal"}}}
 ]},
 {"data":{"name":"k9"},"mark":{"type":"rule","strokeWidth":1.6},"encoding":{"x":{"field":"f","type":"quantitative","scale":{"domain":[250.80533,250.78784],"nice":false,"zero":false},"axis":{"orient":"top","title":"Frequency [GHz]","values":[250.805,250.8,250.795,250.79],"tickCount":20,"labelExpr":"toString(datum.value)"}},"y":{"datum":0.798,"axis":{"orient":"right","labels":false,"title":null,"values":[0.25,0.3,0.35,0.4,0.45,0.5,0.55,0.6,0.65,0.7],"tickCount":20}},"y2":{"datum":0.727},"color":{"field":"kind","type":"nominal","scale":{"domain":["main","blend"],"range":["#5a5ec8","#62d4e4"]},"legend":null}}}
]},
{"width":152,"height":128,"resolve":{"scale":{"x":"independent"},"axis":{"x":"independent","y":"independent"}},"layer":[
 {"layer":[
  {"data":{"name":"o10"},"mark":{"type":"line","interpolate":"step","color":"#111","strokeWidth":1.5},"encoding":{"x":{"field":"v","type":"quantitative","scale":{"domain":[-6.2,14],"nice":false,"zero":false},"axis":{"title":"Velocity [km/s]","values":[-5,0,5,10],"tickCount":20,"labelExpr":"toString(datum.value)"}},"y":{"field":"T","type":"quantitative","title":"T [K]","scale":{"domain":[0.224,0.703],"nice":false,"zero":false},"axis":{"values":[0.3,0.35,0.4,0.45,0.5,0.55,0.6],"tickCount":20,"labelExpr":"toString(datum.value)"}}}},
  {"data":{"name":"m10"},"mark":{"type":"line","color":"#d8261c","strokeWidth":1.5},"encoding":{"x":{"field":"v","type":"quantitative"},"y":{"field":"T","type":"quantitative","title":"T [K]"}}},
  {"data":{"values":[{"t":"APEX"}]},"mark":{"type":"text","fontSize":17,"font":"Liberation Serif","color":"#222"},"encoding":{"x":{"datum":10.7},"y":{"datum":0.584},"text":{"field":"t","type":"nominal"}}}
 ]},
 {"data":{"name":"k10"},"mark":{"type":"rule","strokeWidth":1.6},"encoding":{"x":{"field":"f","type":"quantitative","scale":{"domain":[250.82365,250.80675],"nice":false,"zero":false},"axis":{"orient":"top","title":"Frequency [GHz]","values":[250.82,250.815,250.81],"tickCount":20,"labelExpr":"toString(datum.value)"}},"y":{"datum":0.703,"axis":{"orient":"right","labels":false,"title":null,"values":[0.3,0.35,0.4,0.45,0.5,0.55,0.6],"tickCount":20}},"y2":{"datum":0.646},"color":{"field":"kind","type":"nominal","scale":{"domain":["main","blend"],"range":["#5a5ec8","#62d4e4"]},"legend":null}}}
]},
{"width":152,"height":128,"resolve":{"scale":{"x":"independent"},"axis":{"x":"independent","y":"independent"}},"layer":[
 {"layer":[
  {"data":{"name":"o11"},"mark":{"type":"line","interpolate":"step","color":"#111","strokeWidth":1.5},"encoding":{"x":{"field":"v","type":"quantitative","scale":{"domain":[-12.7,20],"nice":false,"zero":false},"axis":{"title":"Velocity [km/s]","values":[-10,0,10,20],"tickCount":20,"labelExpr":"toString(datum.value)"}},"y":{"field":"T","type":"quantitative","title":"T [K]","scale":{"domain":[0.5,1.091],"nice":false,"zero":false},"axis":{"values":[0.55,0.6,0.65,0.7,0.75,0.8,0.85,0.9,0.95,1],"tickCount":20,"labelExpr":"toString(datum.value)"}}}},
  {"data":{"name":"m11"},"mark":{"type":"line","color":"#d8261c","strokeWidth":1.5},"encoding":{"x":{"field":"v","type":"quantitative"},"y":{"field":"T","type":"quantitative","title":"T [K]"}}},
  {"data":{"values":[{"t":"APEX"}]},"mark":{"type":"text","fontSize":17,"font":"Liberation Serif","color":"#222"},"encoding":{"x":{"datum":14.1},"y":{"datum":0.968},"text":{"field":"t","type":"nominal"}}},
  {"data":{"values":[{"t":"E"}]},"mark":{"type":"text","align":"left","fontSize":17,"font":"Liberation Serif","color":"#222"},"encoding":{"x":{"datum":-0.7},"y":{"datum":0.541},"text":{"field":"t","type":"nominal"}}},
  {"data":{"values":[{"t":"up"}]},"mark":{"type":"text","align":"left","fontSize":11,"dx":11,"dy":5,"font":"Liberation Serif","color":"#222"},"encoding":{"x":{"datum":-0.7},"y":{"datum":0.541},"text":{"field":"t","type":"nominal"}}},
  {"data":{"values":[{"t":"~ 36 K"}]},"mark":{"type":"text","align":"left","fontSize":17,"dx":26,"font":"Liberation Serif","color":"#222"},"encoding":{"x":{"datum":-0.7},"y":{"datum":0.541},"text":{"field":"t","type":"nominal"}}}
 ]},
 {"data":{"name":"k11"},"mark":{"type":"rule","strokeWidth":1.6},"encoding":{"x":{"field":"f","type":"quantitative","scale":{"domain":[351.07056,351.03227],"nice":false,"zero":false},"axis":{"orient":"top","title":"Frequency [GHz]","values":[351.07,351.06,351.05,351.04],"tickCount":20,"labelExpr":"toString(datum.value)"}},"y":{"datum":1.091,"axis":{"orient":"right","labels":false,"title":null,"values":[0.55,0.6,0.65,0.7,0.75,0.8,0.85,0.9,0.95,1],"tickCount":20}},"y2":{"datum":1.02},"color":{"field":"kind","type":"nominal","scale":{"domain":["main","blend"],"range":["#5a5ec8","#62d4e4"]},"legend":null}}}
]},
{"width":152,"height":128,"resolve":{"scale":{"x":"independent"},"axis":{"x":"independent","y":"independent"}},"layer":[
 {"layer":[
  {"data":{"name":"o12"},"mark":{"type":"line","interpolate":"step","color":"#111","strokeWidth":1.5},"encoding":{"x":{"field":"v","type":"quantitative","scale":{"domain":[-10,16.4],"nice":false,"zero":false},"axis":{"title":"Velocity [km/s]","values":[-10,0,10],"tickCount":20,"labelExpr":"toString(datum.value)"}},"y":{"field":"T","type":"quantitative","title":"T [K]","scale":{"domain":[0.1815,0.3765],"nice":false,"zero":false},"axis":{"values":[0.2,0.225,0.25,0.275,0.3,0.325,0.35],"tickCount":20,"labelExpr":"toString(datum.value)"}}}},
  {"data":{"name":"m12"},"mark":{"type":"line","color":"#d8261c","strokeWidth":1.5},"encoding":{"x":{"field":"v","type":"quantitative"},"y":{"field":"T","type":"quantitative","title":"T [K]"}}},
  {"data":{"values":[{"t":"HIFI"}]},"mark":{"type":"text","fontSize":17,"font":"Liberation Serif","color":"#222"},"encoding":{"x":{"datum":11.7},"y":{"datum":0.336},"text":{"field":"t","type":"nominal"}}},
  {"data":{"values":[{"t":"E"}]},"mark":{"type":"text","align":"left","fontSize":17,"font":"Liberation Serif","color":"#222"},"encoding":{"x":{"datum":-1.05},"y":{"datum":0.195},"text":{"field":"t","type":"nominal"}}},
  {"data":{"values":[{"t":"up"}]},"mark":{"type":"text","align":"left","fontSize":11,"dx":11,"dy":5,"font":"Liberation Serif","color":"#222"},"encoding":{"x":{"datum":-1.05},"y":{"datum":0.195},"text":{"field":"t","type":"nominal"}}},
  {"data":{"values":[{"t":"~ 85 K"}]},"mark":{"type":"text","align":"left","fontSize":17,"dx":26,"font":"Liberation Serif","color":"#222"},"encoding":{"x":{"datum":-1.05},"y":{"datum":0.195},"text":{"field":"t","type":"nominal"}}}
 ]},
 {"data":{"name":"k12"},"mark":{"type":"rule","strokeWidth":1.6},"encoding":{"x":{"field":"f","type":"quantitative","scale":{"domain":[551.21375,551.16522],"nice":false,"zero":false},"axis":{"orient":"top","title":"Frequency [GHz]","values":[551.21,551.2,551.19,551.18,551.17],"tickCount":20,"labelExpr":"toString(datum.value)"}},"y":{"datum":0.3765,"axis":{"orient":"right","labels":false,"title":null,"values":[0.2,0.225,0.25,0.275,0.3,0.325,0.35],"tickCount":20}},"y2":{"datum":0.353},"color":{"field":"kind","type":"nominal","scale":{"domain":["main","blend"],"range":["#5a5ec8","#62d4e4"]},"legend":null}}}
]},
{"width":152,"height":128,"resolve":{"scale":{"x":"independent"},"axis":{"x":"independent","y":"independent"}},"layer":[
 {"layer":[
  {"data":{"name":"o13"},"mark":{"type":"line","interpolate":"step","color":"#111","strokeWidth":1.5},"encoding":{"x":{"field":"v","type":"quantitative","scale":{"domain":[-10.4,17.2],"nice":false,"zero":false},"axis":{"title":"Velocity [km/s]","values":[-10,0,10],"tickCount":20,"labelExpr":"toString(datum.value)"}},"y":{"field":"T","type":"quantitative","title":"T [K]","scale":{"domain":[0.183,0.375],"nice":false,"zero":false},"axis":{"values":[0.225,0.25,0.275,0.3,0.325,0.35],"tickCount":20,"labelExpr":"toString(datum.value)"}}}},
  {"data":{"name":"m13"},"mark":{"type":"line","color":"#d8261c","strokeWidth":1.5},"encoding":{"x":{"field":"v","type":"quantitative"},"y":{"field":"T","type":"quantitative","title":"T [K]"}}},
  {"data":{"values":[{"t":"HIFI"}]},"mark":{"type":"text","fontSize":17,"font":"Liberation Serif","color":"#222"},"encoding":{"x":{"datum":13.6},"y":{"datum":0.335},"text":{"field":"t","type":"nominal"}}}
 ]},
 {"data":{"name":"k13"},"mark":{"type":"rule","strokeWidth":1.6},"encoding":{"x":{"field":"f","type":"quantitative","scale":{"domain":[551.55671,551.50594],"nice":false,"zero":false},"axis":{"orient":"top","title":"Frequency [GHz]","values":[551.55,551.54,551.53,551.52,551.51],"tickCount":20,"labelExpr":"toString(datum.value)"}},"y":{"datum":0.375,"axis":{"orient":"right","labels":false,"title":null,"values":[0.225,0.25,0.275,0.3,0.325,0.35],"tickCount":20}},"y2":{"datum":0.352},"color":{"field":"kind","type":"nominal","scale":{"domain":["main","blend"],"range":["#5a5ec8","#62d4e4"]},"legend":null}}}
]},
{"width":152,"height":128,"resolve":{"scale":{"x":"independent"},"axis":{"x":"independent","y":"independent"}},"layer":[
 {"layer":[
  {"data":{"name":"o14"},"mark":{"type":"line","interpolate":"step","color":"#111","strokeWidth":1.5},"encoding":{"x":{"field":"v","type":"quantitative","scale":{"domain":[-10.3,16.7],"nice":false,"zero":false},"axis":{"title":"Velocity [km/s]","values":[-10,0,10],"tickCount":20,"labelExpr":"toString(datum.value)"}},"y":{"field":"T","type":"quantitative","title":"T [K]","scale":{"domain":[0.2775,0.454],"nice":false,"zero":false},"axis":{"values":[0.3,0.325,0.35,0.375,0.4,0.425],"tickCount":20,"labelExpr":"toString(datum.value)"}}}},
  {"data":{"name":"m14"},"mark":{"type":"line","color":"#d8261c","strokeWidth":1.5},"encoding":{"x":{"field":"v","type":"quantitative"},"y":{"field":"T","type":"quantitative","title":"T [K]"}}},
  {"data":{"values":[{"t":"HIFI"}]},"mark":{"type":"text","fontSize":17,"font":"Liberation Serif","color":"#222"},"encoding":{"x":{"datum":12.3},"y":{"datum":0.417},"text":{"field":"t","type":"nominal"}}},
  {"data":{"values":[{"t":"E"}]},"mark":{"type":"text","align":"left","fontSize":17,"font":"Liberation Serif","color":"#222"},"encoding":{"x":{"datum":-3.96},"y":{"datum":0.298},"text":{"field":"t","type":"nominal"}}},
  {"data":{"values":[{"t":"up"}]},"mark":{"type":"text","align":"left","fontSize":11,"dx":11,"dy":5,"font":"Liberation Serif","color":"#222"},"encoding":{"x":{"datum":-3.96},"y":{"datum":0.298},"text":{"field":"t","type":"nominal"}}},
  {"data":{"values":[{"t":"~ 115 K"}]},"mark":{"type":"text","align":"left","fontSize":17,"dx":26,"font":"Liberation Serif","color":"#222"},"encoding":{"x":{"datum":-3.96},"y":{"datum":0.298},"text":{"field":"t","type":"nominal"}}}
 ]},
 {"data":{"name":"k14"},"mark":{"type":"rule","strokeWidth":1.6},"encoding":{"x":{"field":"f","type":"quantitative","scale":{"domain":[651.46184,651.40317],"nice":false,"zero":false},"axis":{"orient":"top","title":"Frequency [GHz]","values":[651.45,651.425],"tickCount":20,"labelExpr":"toString(datum.value)"}},"y":{"datum":0.454,"axis":{"orient":"right","labels":false,"title":null,"values":[0.3,0.325,0.35,0.375,0.4,0.425],"tickCount":20}},"y2":{"datum":0.433},"color":{"field":"kind","type":"nominal","scale":{"domain":["main","blend"],"range":["#4a86d8","#62d4e4"]},"legend":null}}}
]},
{"width":152,"height":128,"resolve":{"scale":{"x":"independent"},"axis":{"x":"independent","y":"independent"}},"layer":[
 {"layer":[
  {"data":{"name":"o15"},"mark":{"type":"line","interpolate":"step","color":"#111","strokeWidth":1.5},"encoding":{"x":{"field":"v","type":"quantitative","scale":{"domain":[-10,17.4],"nice":false,"zero":false},"axis":{"title":"Velocity [km/s]","values":[-10,0,10],"tickCount":20,"labelExpr":"toString(datum.value)"}},"y":{"field":"T","type":"quantitative","title":"T [K]","scale":{"domain":[0.294,0.451],"nice":false,"zero":false},"axis":{"values":[0.325,0.35,0.375,0.4,0.425],"tickCount":20,"labelExpr":"toString(datum.value)"}}}},
  {"data":{"name":"m15"},"mark":{"type":"line","color":"#d8261c","strokeWidth":1.5},"encoding":{"x":{"field":"v","type":"quantitative"},"y":{"field":"T","type":"quantitative","title":"T [K]"}}},
  {"data":{"values":[{"t":"HIFI"}]},"mark":{"type":"text","fontSize":17,"font":"Liberation Serif","color":"#222"},"encoding":{"x":{"datum":12.6},"y":{"datum":0.414},"text":{"field":"t","type":"nominal"}}}
 ]},
 {"data":{"name":"k15"},"mark":{"type":"rule","strokeWidth":1.6},"encoding":{"x":{"field":"f","type":"quantitative","scale":{"domain":[651.80228,651.74272],"nice":false,"zero":false},"axis":{"orient":"top","title":"Frequency [GHz]","values":[651.8,651.775,651.75],"tickCount":20,"labelExpr":"toString(datum.value)"}},"y":{"datum":0.451,"axis":{"orient":"right","labels":false,"title":null,"values":[0.325,0.35,0.375,0.4,0.425],"tickCount":20}},"y2":{"datum":0.432},"color":{"field":"kind","type":"nominal","scale":{"domain":["main","blend"],"range":["#4a6fd8","#62d4e4"]},"legend":null}}}
]}
]
}
